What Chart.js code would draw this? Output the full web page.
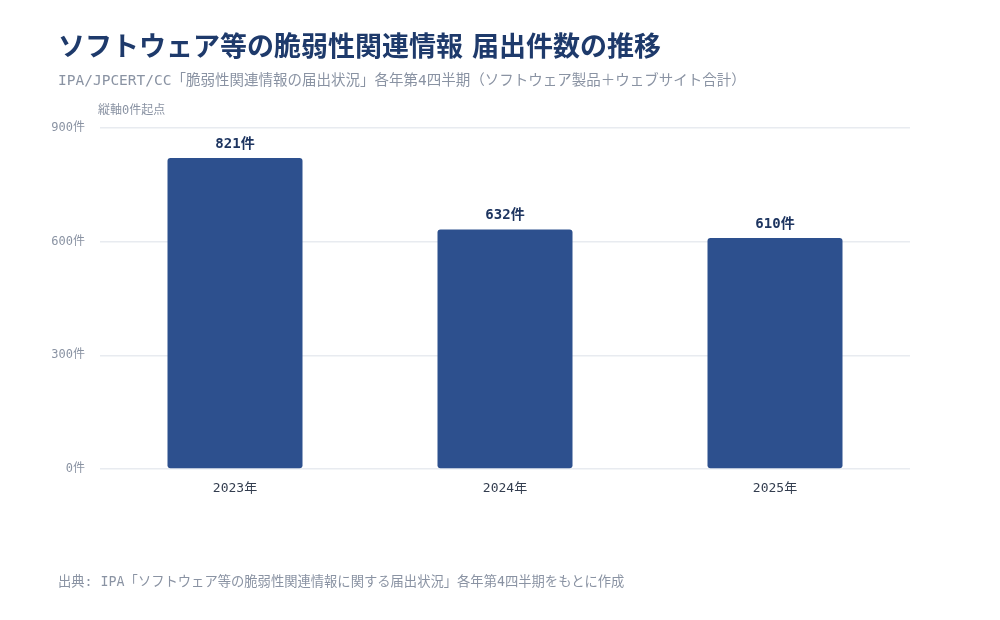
<!DOCTYPE html>
<html lang="ja">
<head>
<meta charset="utf-8">
<script src="https://cdn.jsdelivr.net/npm/chart.js@4/dist/chart.umd.min.js"></script>
<style>
  html, body { margin: 0; padding: 0; background: #ffffff; }
  #wrap { position: relative; width: 1000px; height: 620px; overflow: hidden; }
  #chartBox { position: absolute; left: 0; top: 0; width: 1000px; height: 620px; }
  .txt { position: absolute; white-space: nowrap; font-family: "DejaVu Sans Mono", "Noto Sans CJK JP", sans-serif; }
  #title { left: 58px; top: 25px; font-size: 27px; font-weight: bold; color: #1e3a6b; font-family: "Noto Sans CJK JP", sans-serif; }
  #title span { display: inline-block; width: 9px; }
  #subtitle { left: 58px; top: 68px; font-size: 14.5px; color: #8a93a3; }
  #axisNote { left: 98px; top: 100px; font-size: 12px; color: #8a93a3; }
  #source { left: 58px; top: 571px; font-size: 13.3px; color: #8a93a3; }
</style>
</head>
<body>
<div id="wrap">
  <div id="chartBox"><canvas id="vulnChart"></canvas></div>
  <div class="txt" id="title">ソフトウェア等の脆弱性関連情報<span></span>届出件数の推移</div>
  <div class="txt" id="subtitle">IPA/JPCERT/CC「脆弱性関連情報の届出状況」各年第4四半期（ソフトウェア製品＋ウェブサイト合計）</div>
  <div class="txt" id="axisNote">縦軸0件起点</div>
  <div class="txt" id="source">出典: IPA「ソフトウェア等の脆弱性関連情報に関する届出状況」各年第4四半期をもとに作成</div>
</div>
<script>
// データ
const years = ["2023年", "2024年", "2025年"];
const reportCounts = [821, 632, 610];
const yTicks = [0, 300, 600, 900];

const MONO = "'DejaVu Sans Mono', 'Noto Sans CJK JP', sans-serif";

// 棒の上に件数を表示
const valueLabels = {
    id: 'valueLabels',
    afterDatasetsDraw(chart) {
        const ctx = chart.ctx;
        const meta = chart.getDatasetMeta(0);
        ctx.save();
        ctx.font = "bold 14px " + MONO;
        ctx.fillStyle = "#1e3560";
        ctx.textAlign = "center";
        ctx.textBaseline = "bottom";
        meta.data.forEach((bar, i) => {
            ctx.fillText(reportCounts[i] + "件", bar.x, bar.y - 7);
        });
        ctx.restore();
    }
};

const ctx = document.getElementById('vulnChart').getContext('2d');

new Chart(ctx, {
    type: 'bar',
    data: {
        labels: years,
        datasets: [{
            data: reportCounts,
            backgroundColor: '#2d508e',
            borderRadius: 3,
            borderSkipped: false,
            categoryPercentage: 1.0,
            barPercentage: 0.5
        }]
    },
    options: {
        responsive: true,
        maintainAspectRatio: false,
        animation: false,
        layout: {
            padding: { top: 128, right: 90, bottom: 111, left: 0 }
        },
        plugins: {
            legend: { display: false },
            tooltip: { enabled: false }
        },
        scales: {
            x: {
                grid: { display: false, drawTicks: false },
                border: { display: false },
                ticks: {
                    color: '#333d4f',
                    font: { family: MONO, size: 13 },
                    padding: 12
                },
                afterFit: (scale) => { scale.height = 40; }
            },
            y: {
                min: 0,
                max: 900,
                grid: { color: '#e8ebf0', lineWidth: 1.5, drawTicks: false },
                border: { display: false },
                afterBuildTicks: (scale) => {
                    scale.ticks = yTicks.map(v => ({ value: v }));
                },
                ticks: {
                    color: '#8a93a3',
                    font: { family: MONO, size: 12 },
                    padding: 15,
                    callback: (v) => v + "件"
                },
                afterFit: (scale) => { scale.width = 100; }
            }
        }
    },
    plugins: [valueLabels]
});
</script>
</body>
</html>
